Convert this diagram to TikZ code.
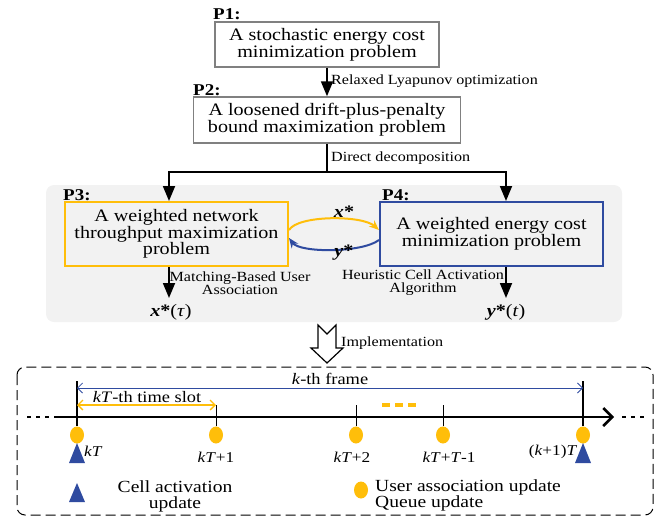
\documentclass[tikz,border=0pt]{standalone}
\usepackage{fontspec}
\setmainfont[FakeStretch=1.15]{Liberation Serif}
\usetikzlibrary{arrows.meta,shapes.geometric}
\definecolor{slotorange}{RGB}{255,190,10}
\definecolor{frameblue}{RGB}{47,75,160}
\definecolor{boxgray}{RGB}{128,128,128}
\definecolor{panelgray}{RGB}{242,242,242}
\tikzset{
    probbox/.style={draw=boxgray,line width=1.5pt,align=center,inner sep=0pt,font=\fontsize{17.5}{17}\selectfont},
    subbox/.style={line width=2pt,align=center,inner sep=0pt,font=\fontsize{17.5}{16.5}\selectfont},
    plabel/.style={anchor=base west,inner sep=0pt,font=\fontsize{16.5}{16.5}\selectfont\bfseries},
    steplabel/.style={anchor=west,inner sep=0pt,font=\fontsize{14}{14}\selectfont},
    algolabel/.style={align=center,inner sep=0pt,font=\fontsize{14}{13}\selectfont},
    varlabel/.style={inner sep=0pt,font=\fontsize{17.5}{17.5}\selectfont},
    downarrow/.style={-{Triangle[length=15pt,width=12pt]},line width=1.8pt},
    ticklabel/.style={inner sep=0pt,font=\fontsize{15}{15}\selectfont},
    updot/.style={ellipse,fill=slotorange,minimum width=14pt,minimum height=17pt,inner sep=0pt},
    legtext/.style={inner sep=0pt,font=\fontsize{17}{16}\selectfont},
}
\begin{document}
\begin{tikzpicture}[x=1pt,y=-1pt]
\useasboundingbox (0,0) rectangle (660,519);
\node[probbox,minimum width=224pt,minimum height=45pt] (p1) at (327,44.5) {A stochastic energy cost\\minimization problem};
\node[plabel] (p1lab) at (213,20) {P1:};
\node[probbox,minimum width=267pt,minimum height=46pt] (p2) at (327,120) {A loosened drift-plus-penalty\\bound maximization problem};
\node[plabel] (p2lab) at (193,95) {P2:};
\draw[downarrow] (p1) -- (p2);
\node[steplabel] (relax) at (331,81) {Relaxed Lyapunov optimization};

\fill[panelgray,rounded corners=8pt] (46,185) rectangle (622,322);
\node[subbox,draw=slotorange,minimum width=223pt,minimum height=64pt] (p3) at (176.5,234) {A weighted network\\throughput maximization\\problem};
\node[plabel] (p3lab) at (63,200) {P3:};
\node[subbox,draw=frameblue,minimum width=223pt,minimum height=64pt] (p4) at (491.5,234) {A weighted energy cost\\minimization problem};
\node[plabel] (p4lab) at (382,200) {P4:};

\coordinate (split) at (327,172);
\draw[line width=1.8pt] (p2) -- (split);
\node[steplabel] (decomp) at (331,158) {Direct decomposition};
\draw[downarrow] (split) -| ([xshift=-7.5pt]p3.north);
\draw[downarrow] (split) -| ([xshift=14.5pt]p4.north);

\draw[slotorange,line width=2pt,-{Stealth[length=10pt,width=8pt]}] ([yshift=4pt]p3.east) .. controls (298,215) and (362,215) .. ([yshift=4pt]p4.west);
\draw[frameblue,line width=2pt,-{Stealth[length=10pt,width=8pt]}] ([yshift=-6pt]p4.west) .. controls (362,253) and (300,253) .. ([yshift=-4pt]p3.east);
\node[varlabel] (xstar) at (344,212) {\textbf{\textit{x}*}};
\node[varlabel] (ystar) at (344,253) {\textbf{\textit{y}*}};

\node[algolabel] (match) at (240,283) {Matching-Based User\\Association};
\node[algolabel] (heur) at (423,283) {Heuristic Cell Activation\\Algorithm};
\draw[downarrow] ([xshift=-7.5pt]p3.south) -- ++(0,31);
\draw[downarrow] ([xshift=14.5pt]p4.south) -- ++(0,31);
\node[varlabel] (xtau) at (171,312) {\textbf{\textit{x}*}(\textit{τ})};
\node[varlabel] (yt) at (506,312) {\textbf{\textit{y}*}(\textit{t})};

\draw[line width=1.2pt,fill=white,line join=miter] (318,325) -- (327,334) -- (336,325) -- (336,348) -- (343,348) -- (327,363) -- (311,348) -- (318,348) -- cycle;
\node[steplabel] (impl) at (341,343) {Implementation};

\draw[line width=1pt,dash pattern=on 10pt off 5pt,rounded corners=8pt] (17,367) rectangle (653,515);

\coordinate (t0) at (55,417);
\coordinate (tend) at (614,417);
\draw[line width=2.5pt,dash pattern=on 4pt off 5pt] (27,417) -- (t0);
\draw[line width=2.5pt,-{Straight Barb[length=9pt,width=18pt]}] (t0) -- (tend);
\draw[line width=2.5pt,dash pattern=on 4pt off 5pt] (622,417) -- (647,417);

\foreach \x/\n in {77/0,216/1,356/2,443/3,583/4}
    \node[updot] (u\n) at (\x,435) {};
\draw[line width=2pt] (77,381) -- (u0);
\draw[line width=2pt] (583,381) -- (u4);
\foreach \n in {1,2,3}
    \draw[line width=1pt] (u\n) -- ++(0,-30);
\foreach \x in {77,583}
    \fill[frameblue] (\x-8,463) -- (\x,443) -- (\x+8,463) -- cycle;

\draw[frameblue,line width=0.8pt,{Straight Barb[length=5pt,width=10pt]}-{Straight Barb[length=5pt,width=10pt]}] (77,388) -- (583,388);
\node[ticklabel,font=\fontsize{16}{16}\selectfont] (frame) at (330,379) {\textit{k}-th frame};
\draw[slotorange,line width=1.3pt,{Straight Barb[length=5pt,width=10pt]}-{Straight Barb[length=5pt,width=10pt]}] (77,405) -- (216,405);
\node[ticklabel,font=\fontsize{16}{16}\selectfont] (slot) at (147,397) {\textit{kT}-th time slot};
\draw[slotorange,line width=3.5pt,dash pattern=on 8pt off 5pt] (382,405) -- (416,405);

\node[ticklabel,anchor=west] (lkT) at (84,451) {\textit{kT}};
\node[ticklabel] (lkT1) at (216,457) {\textit{kT}+1};
\node[ticklabel] (lkT2) at (352,457) {\textit{kT}+2};
\node[ticklabel] (lkTT) at (449,457) {\textit{kT}+\textit{T}-1};
\node[ticklabel] (lk1T) at (553,452) {(\textit{k}+1)\textit{T}};

\fill[frameblue] (69,502) -- (77,483) -- (85,502) -- cycle;
\node[legtext,align=center] (celltxt) at (175,496) {Cell activation\\update};
\node[updot] (legdot) at (361,490) {};
\node[legtext,align=left,anchor=west] (usertxt) at (375,495) {User association update\\Queue update};
\end{tikzpicture}
\end{document}
